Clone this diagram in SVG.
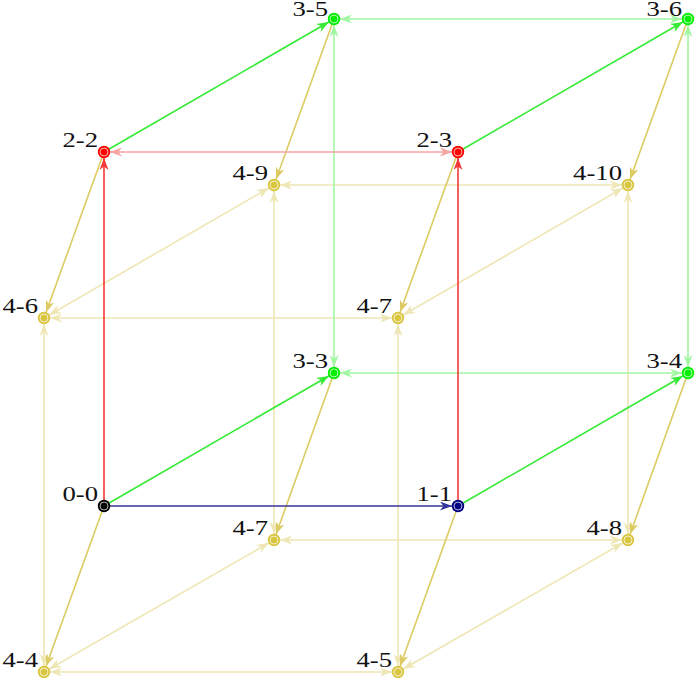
<svg xmlns="http://www.w3.org/2000/svg" width="696" height="680" viewBox="0 0 696 680">
<style>
.e{stroke-width:1.6;fill:none}
.ly{stroke:#eee6b4;marker-start:url(#aly);marker-end:url(#aly)}
.my{stroke:#dccb62;marker-end:url(#amy)}
.lg{stroke:#a2f7a2;marker-start:url(#alg);marker-end:url(#alg)}
.lr{stroke:#f6a3a3;marker-start:url(#alr);marker-end:url(#alr)}
.g{stroke:#35ea35;marker-end:url(#ag)}
.r{stroke:#f53838;marker-end:url(#ar)}
.b{stroke:#33339a;marker-end:url(#ab)}
.ring{fill:none;stroke:#ffffff;stroke-width:0.7}
.lbl{font-family:"Liberation Serif","DejaVu Serif",serif;font-size:21px;fill:#111;text-anchor:end}
</style>
<defs>
<marker id="aly" viewBox="0 0 12 9" refX="18" refY="4.5" markerWidth="12" markerHeight="9" markerUnits="userSpaceOnUse" orient="auto-start-reverse"><path d="M0,0 L12,4.5 L0,9 L3.5,4.5 z" fill="#eee6b4"/></marker>
<marker id="amy" viewBox="0 0 12 9" refX="18" refY="4.5" markerWidth="12" markerHeight="9" markerUnits="userSpaceOnUse" orient="auto-start-reverse"><path d="M0,0 L12,4.5 L0,9 L3.5,4.5 z" fill="#dccb62"/></marker>
<marker id="alg" viewBox="0 0 12 9" refX="18" refY="4.5" markerWidth="12" markerHeight="9" markerUnits="userSpaceOnUse" orient="auto-start-reverse"><path d="M0,0 L12,4.5 L0,9 L3.5,4.5 z" fill="#a2f7a2"/></marker>
<marker id="alr" viewBox="0 0 12 9" refX="18" refY="4.5" markerWidth="12" markerHeight="9" markerUnits="userSpaceOnUse" orient="auto-start-reverse"><path d="M0,0 L12,4.5 L0,9 L3.5,4.5 z" fill="#f6a3a3"/></marker>
<marker id="ag" viewBox="0 0 12 9" refX="18" refY="4.5" markerWidth="12" markerHeight="9" markerUnits="userSpaceOnUse" orient="auto-start-reverse"><path d="M0,0 L12,4.5 L0,9 L3.5,4.5 z" fill="#35ea35"/></marker>
<marker id="ar" viewBox="0 0 12 9" refX="18" refY="4.5" markerWidth="12" markerHeight="9" markerUnits="userSpaceOnUse" orient="auto-start-reverse"><path d="M0,0 L12,4.5 L0,9 L3.5,4.5 z" fill="#f53838"/></marker>
<marker id="ab" viewBox="0 0 12 9" refX="18" refY="4.5" markerWidth="12" markerHeight="9" markerUnits="userSpaceOnUse" orient="auto-start-reverse"><path d="M0,0 L12,4.5 L0,9 L3.5,4.5 z" fill="#33339a"/></marker>
</defs>
<g id="connectors">
<line class="e ly" x1="44" y1="672" x2="398" y2="672"/>
<line class="e ly" x1="44" y1="672" x2="44" y2="318"/>
<line class="e ly" x1="44" y1="672" x2="274" y2="540"/>
<line class="e ly" x1="398" y1="672" x2="398" y2="318"/>
<line class="e ly" x1="398" y1="672" x2="628" y2="540"/>
<line class="e ly" x1="44" y1="318" x2="398" y2="318"/>
<line class="e ly" x1="44" y1="318" x2="274" y2="185"/>
<line class="e ly" x1="274" y1="540" x2="628" y2="540"/>
<line class="e ly" x1="274" y1="540" x2="274" y2="185"/>
<line class="e ly" x1="398" y1="318" x2="628" y2="185"/>
<line class="e ly" x1="628" y1="540" x2="628" y2="185"/>
<line class="e ly" x1="274" y1="185" x2="628" y2="185"/>
<line class="e my" x1="104" y1="506" x2="44" y2="672"/>
<line class="e my" x1="458" y1="506" x2="398" y2="672"/>
<line class="e my" x1="104" y1="152" x2="44" y2="318"/>
<line class="e my" x1="458" y1="152" x2="398" y2="318"/>
<line class="e my" x1="334" y1="373" x2="274" y2="540"/>
<line class="e my" x1="688" y1="373" x2="628" y2="540"/>
<line class="e my" x1="334" y1="19" x2="274" y2="185"/>
<line class="e my" x1="688" y1="19" x2="628" y2="185"/>
<line class="e lg" x1="334" y1="373" x2="688" y2="373"/>
<line class="e lg" x1="334" y1="19" x2="688" y2="19"/>
<line class="e lg" x1="334" y1="19" x2="334" y2="373"/>
<line class="e lg" x1="688" y1="19" x2="688" y2="373"/>
<line class="e lr" x1="104" y1="152" x2="458" y2="152"/>
<line class="e g" x1="104" y1="506" x2="334" y2="373"/>
<line class="e g" x1="458" y1="506" x2="688" y2="373"/>
<line class="e g" x1="104" y1="152" x2="334" y2="19"/>
<line class="e g" x1="458" y1="152" x2="688" y2="19"/>
<line class="e r" x1="104" y1="506" x2="104" y2="152"/>
<line class="e r" x1="458" y1="506" x2="458" y2="152"/>
<line class="e b" x1="104" y1="506" x2="458" y2="506"/>
</g>
<g id="n0-0"><circle cx="104" cy="506" r="6.2" fill="#000000"/><circle class="ring" cx="104" cy="506" r="4"/><text class="lbl" transform="translate(98,501) scale(1.27,1)">0-0</text></g>
<g id="n1-1"><circle cx="458" cy="506" r="6.2" fill="#000080"/><circle class="ring" cx="458" cy="506" r="4"/><text class="lbl" transform="translate(452,501) scale(1.27,1)">1-1</text></g>
<g id="n2-2"><circle cx="104" cy="152" r="6.2" fill="#ff0000"/><circle class="ring" cx="104" cy="152" r="4"/><text class="lbl" transform="translate(98,147) scale(1.27,1)">2-2</text></g>
<g id="n2-3"><circle cx="458" cy="152" r="6.2" fill="#ff0000"/><circle class="ring" cx="458" cy="152" r="4"/><text class="lbl" transform="translate(452,147) scale(1.27,1)">2-3</text></g>
<g id="n3-3"><circle cx="334" cy="373" r="6.2" fill="#00ee00"/><circle class="ring" cx="334" cy="373" r="4"/><text class="lbl" transform="translate(328,368) scale(1.27,1)">3-3</text></g>
<g id="n3-4"><circle cx="688" cy="373" r="6.2" fill="#00ee00"/><circle class="ring" cx="688" cy="373" r="4"/><text class="lbl" transform="translate(682,368) scale(1.27,1)">3-4</text></g>
<g id="n3-5"><circle cx="334" cy="19" r="6.2" fill="#00ee00"/><circle class="ring" cx="334" cy="19" r="4"/><text class="lbl" transform="translate(328,15.5) scale(1.27,1)">3-5</text></g>
<g id="n3-6"><circle cx="688" cy="19" r="6.2" fill="#00ee00"/><circle class="ring" cx="688" cy="19" r="4"/><text class="lbl" transform="translate(682,15.5) scale(1.27,1)">3-6</text></g>
<g id="n4-4"><circle cx="44" cy="672" r="6.2" fill="#d8c640"/><circle class="ring" cx="44" cy="672" r="4"/><text class="lbl" transform="translate(38,667) scale(1.27,1)">4-4</text></g>
<g id="n4-5"><circle cx="398" cy="672" r="6.2" fill="#d8c640"/><circle class="ring" cx="398" cy="672" r="4"/><text class="lbl" transform="translate(392,667) scale(1.27,1)">4-5</text></g>
<g id="n4-6"><circle cx="44" cy="318" r="6.2" fill="#d8c640"/><circle class="ring" cx="44" cy="318" r="4"/><text class="lbl" transform="translate(38,313) scale(1.27,1)">4-6</text></g>
<g id="n4-7a"><circle cx="398" cy="318" r="6.2" fill="#d8c640"/><circle class="ring" cx="398" cy="318" r="4"/><text class="lbl" transform="translate(392,313) scale(1.27,1)">4-7</text></g>
<g id="n4-7b"><circle cx="274" cy="540" r="6.2" fill="#d8c640"/><circle class="ring" cx="274" cy="540" r="4"/><text class="lbl" transform="translate(268,535) scale(1.27,1)">4-7</text></g>
<g id="n4-8"><circle cx="628" cy="540" r="6.2" fill="#d8c640"/><circle class="ring" cx="628" cy="540" r="4"/><text class="lbl" transform="translate(622,535) scale(1.27,1)">4-8</text></g>
<g id="n4-9"><circle cx="274" cy="185" r="6.2" fill="#d8c640"/><circle class="ring" cx="274" cy="185" r="4"/><text class="lbl" transform="translate(268,180) scale(1.27,1)">4-9</text></g>
<g id="n4-10"><circle cx="628" cy="185" r="6.2" fill="#d8c640"/><circle class="ring" cx="628" cy="185" r="4"/><text class="lbl" transform="translate(622,180) scale(1.27,1)">4-10</text></g>
</svg>
